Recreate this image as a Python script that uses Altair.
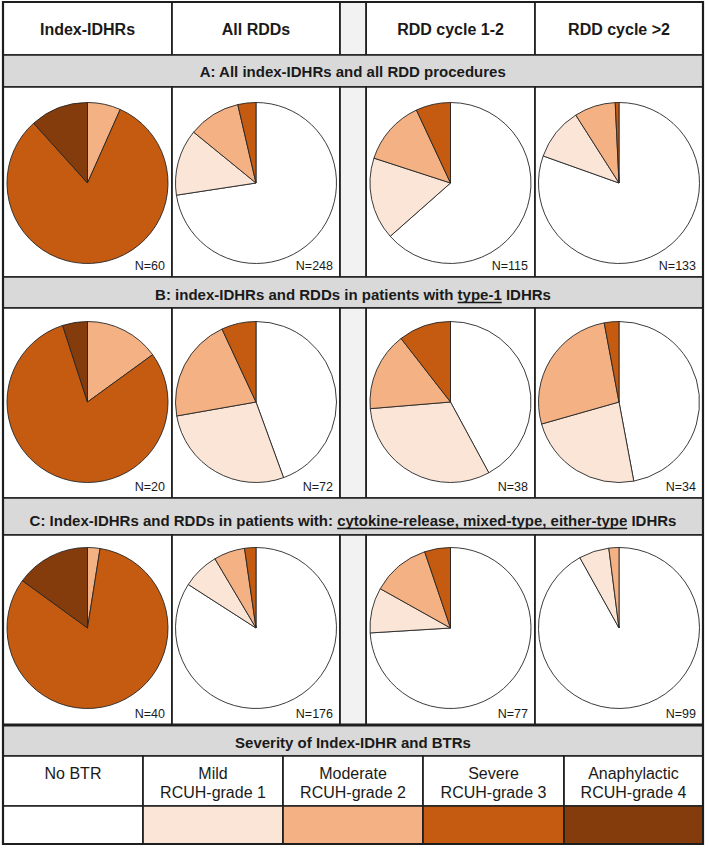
import math
import altair as alt
import pandas as pd

# ---------------- data ----------------
columns = ["Index-IDHRs", "All RDDs", "RDD cycle 1-2", "RDD cycle >2"]
severity = ["No BTR", "Mild", "Moderate", "Severe", "Anaphylactic"]
severity_grade = ["", "RCUH-grade 1", "RCUH-grade 2", "RCUH-grade 3", "RCUH-grade 4"]
severity_colors = ["#FFFFFF", "#FBE5D6", "#F4B183", "#C55A11", "#843C0C"]
legend_title = "Severity of Index-IDHR and BTRs"

sections = ["A", "B", "C"]
# (plain prefix, underlined part, plain suffix)
section_titles = [
    ("A: All index-IDHRs and all RDD procedures", "", ""),
    ("B: index-IDHRs and RDDs in patients with ", "type-1", " IDHRs"),
    ("C: Index-IDHRs and RDDs in patients with: ", "cytokine-release, mixed-type, either-type", " IDHRs"),
]

# counts per severity (No BTR, Mild, Moderate, Severe, Anaphylactic) for each column
counts_A = [[0, 0, 4, 49, 7], [180, 33, 26, 9, 0], [73, 19, 15, 8, 0], [107, 14, 11, 1, 0]]
counts_B = [[0, 0, 3, 16, 1], [32, 20, 15, 5, 0], [16, 12, 6, 4, 0], [16, 8, 9, 1, 0]]
counts_C = [[0, 0, 1, 33, 6], [148, 13, 11, 4, 0], [57, 7, 9, 4, 0], [91, 6, 2, 0, 0]]
counts = {"A": counts_A, "B": counts_B, "C": counts_C}

# ---------------- layout (pixels) ----------------
W, H = 709, 848
LEFT, RIGHT = 3, 703
MIDX = (LEFT + RIGHT) / 2
PIE_COLS = [(3, 172), (172, 340), (366, 535), (535, 703)]
GAP = (340, 366)
HEADER = (2, 55)
BANDS = {"A": (55, 87), "B": (277, 308), "C": (498, 535)}
BAND_BASE = {"A": 77, "B": 300, "C": 526}
ROWS = {"A": (87, 277), "B": (308, 498), "C": (535, 725)}
PIE_CY = {"A": 183, "B": 402, "C": 628}
PIE_R = 80.5
SEV_BAND = (725, 756)
LEG_LABEL = (756, 806)
LEG_SWATCH = (806, 844)
LEG_X = [3, 143, 283, 423, 564, 703]
LINE = "#1e1e1e"
TXT = "#1a1a1a"
FONT = "Liberation Sans"

xs = alt.Scale(domain=[0, W], range=[0, W], nice=False, zero=False)
ys = alt.Scale(domain=[0, H], range=[0, H], nice=False, zero=False)

# Arial-bold advance widths (per 1000 em) to place underlined pieces
BOLD_W = {' ': 278, ',': 278, '-': 333, '.': 278, ':': 333, '>': 584, '=': 584}
for c in "0123456789":
    BOLD_W[c] = 556
BOLD_W.update(dict(zip("ABCDEFGHIJKLMNOPQRSTUVWXYZ",
                       [722, 722, 722, 722, 667, 611, 778, 722, 278, 556, 722, 611, 833,
                        722, 778, 667, 778, 722, 667, 611, 722, 667, 944, 667, 667, 611])))
BOLD_W.update(dict(zip("abcdefghijklmnopqrstuvwxyz",
                       [556, 611, 556, 611, 556, 333, 611, 611, 278, 278, 556, 278, 889,
                        611, 611, 611, 611, 389, 556, 333, 611, 556, 778, 556, 556, 500])))


def text_w(s, size):
    return sum(BOLD_W.get(c, 556) for c in s) * size / 1000.0


# ---------------- tables ----------------
cells = []


def cell(x, x2, y, y2, fill):
    cells.append({"x": x, "x2": x2, "y": y, "y2": y2, "fill": fill})


for (a, b) in PIE_COLS:
    cell(a, b, HEADER[0], HEADER[1], "#FFFFFF")
cell(GAP[0], GAP[1], HEADER[0], HEADER[1], "#F2F2F2")
for s in sections:
    cell(LEFT, RIGHT, BANDS[s][0], BANDS[s][1], "#D9D9D9")
    for (a, b) in PIE_COLS:
        cell(a, b, ROWS[s][0], ROWS[s][1], "#FFFFFF")
    cell(GAP[0], GAP[1], ROWS[s][0], ROWS[s][1], "#F2F2F2")
cell(LEFT, RIGHT, SEV_BAND[0], SEV_BAND[1], "#D9D9D9")
for i in range(5):
    cell(LEG_X[i], LEG_X[i + 1], LEG_LABEL[0], LEG_LABEL[1], "#FFFFFF")
cells_df = pd.DataFrame(cells)

swatch_df = pd.DataFrame({
    "cat": severity,
    "x": LEG_X[:-1], "x2": LEG_X[1:],
    "y": [LEG_SWATCH[0]] * 5, "y2": [LEG_SWATCH[1]] * 5,
})

pie_rows = []
nlab_rows = []
for s in sections:
    for ci, (a, b) in enumerate(PIE_COLS):
        vals = counts[s][ci]
        for k, cat in enumerate(severity):
            pie_rows.append({"pie": f"{s}{ci}", "cat": cat, "order": k, "value": vals[k],
                             "cx": (a + b) / 2, "cy": PIE_CY[s]})
        nlab_rows.append({"x": b - 7, "y": ROWS[s][1] - 7, "text": f"N={sum(vals)}"})
pie_df = pd.DataFrame(pie_rows)
nlab_df = pd.DataFrame(nlab_rows)

header_df = pd.DataFrame({"text": columns, "x": [(a + b) / 2 for a, b in PIE_COLS], "y": [35] * 4})

title_rows, ul_rows = [], []
for s, (p1, p2, p3) in zip(sections, section_titles):
    w1, w2, w3 = text_w(p1, 15), text_w(p2, 15), text_w(p3, 15)
    start = MIDX - (w1 + w2 + w3) / 2
    y = BAND_BASE[s]
    for txt, x in ((p1, start), (p2, start + w1), (p3, start + w1 + w2)):
        if txt.strip():
            title_rows.append({"text": txt.strip(), "x": x + (text_w(txt, 15) - text_w(txt.lstrip(), 15)), "y": y})
    if p2:
        ul_rows.append({"x": start + w1, "x2": start + w1 + w2, "y": y + 2.5})
title_rows.append({"text": legend_title, "x": MIDX - text_w(legend_title, 15) / 2, "y": 748})
title_df = pd.DataFrame(title_rows)
ul_df = pd.DataFrame(ul_rows)

leg_df = pd.DataFrame({
    "l1": severity, "l2": severity_grade,
    "x": [(LEG_X[i] + LEG_X[i + 1]) / 2 for i in range(5)],
    "y1": [779] * 5, "y2": [798] * 5,
})

thick_df = pd.DataFrame({"x": [LEFT], "x2": [RIGHT], "y": [SEV_BAND[0]]})
frame_df = pd.DataFrame({"x": [LEFT], "x2": [RIGHT], "y": [HEADER[0]], "y2": [LEG_SWATCH[1]]})

# ---------------- layers ----------------
cells_layer = alt.Chart(cells_df).mark_rect(stroke=LINE, strokeWidth=1.7).encode(
    x=alt.X("x:Q", scale=xs, axis=None), x2="x2:Q",
    y=alt.Y("y:Q", scale=ys, axis=None), y2="y2:Q",
    fill=alt.Fill("fill:N", scale=None),
)

color_scale = alt.Scale(domain=severity, range=severity_colors)

swatch_layer = alt.Chart(swatch_df).mark_rect(stroke=LINE, strokeWidth=1.7).encode(
    x=alt.X("x:Q", scale=xs, axis=None), x2="x2:Q",
    y=alt.Y("y:Q", scale=ys, axis=None), y2="y2:Q",
    color=alt.Color("cat:N", scale=color_scale, legend=None),
)

pie_layer = alt.Chart(pie_df).transform_filter(
    "datum.value > 0"
).transform_joinaggregate(
    total="sum(value)", groupby=["pie"]
).transform_window(
    cum="sum(value)", groupby=["pie"], sort=[alt.SortField("order")], frame=[None, 0]
).transform_calculate(
    t0="(datum.cum - datum.value) / datum.total", t1="datum.cum / datum.total"
).mark_arc(radius=PIE_R, stroke="#262626", strokeWidth=0.9).encode(
    x=alt.X("cx:Q", scale=xs, axis=None),
    y=alt.Y("cy:Q", scale=ys, axis=None),
    theta=alt.Theta("t0:Q", scale=alt.Scale(domain=[0, 1], range=[0, 2 * math.pi]), stack=None),
    theta2=alt.Theta2("t1"),
    color=alt.Color("cat:N", scale=color_scale, legend=None),
)

header_layer = alt.Chart(header_df).mark_text(
    font=FONT, fontSize=16, fontWeight="bold", color=TXT, align="center", baseline="alphabetic"
).encode(x=alt.X("x:Q", scale=xs, axis=None), y=alt.Y("y:Q", scale=ys, axis=None), text="text:N")

title_layer = alt.Chart(title_df).mark_text(
    font=FONT, fontSize=15, fontWeight="bold", color=TXT, align="left", baseline="alphabetic"
).encode(x=alt.X("x:Q", scale=xs, axis=None), y=alt.Y("y:Q", scale=ys, axis=None), text="text:N")

ul_layer = alt.Chart(ul_df).mark_rule(color=TXT, strokeWidth=1.3).encode(
    x=alt.X("x:Q", scale=xs, axis=None), x2="x2:Q", y=alt.Y("y:Q", scale=ys, axis=None)
)

nlab_layer = alt.Chart(nlab_df).mark_text(
    font=FONT, fontSize=12.5, color=TXT, align="right", baseline="alphabetic"
).encode(x=alt.X("x:Q", scale=xs, axis=None), y=alt.Y("y:Q", scale=ys, axis=None), text="text:N")

leg1_layer = alt.Chart(leg_df).mark_text(
    font=FONT, fontSize=16, color=TXT, align="center", baseline="alphabetic"
).encode(x=alt.X("x:Q", scale=xs, axis=None), y=alt.Y("y1:Q", scale=ys, axis=None), text="l1:N")

leg2_layer = alt.Chart(leg_df).mark_text(
    font=FONT, fontSize=16, color=TXT, align="center", baseline="alphabetic"
).encode(x=alt.X("x:Q", scale=xs, axis=None), y=alt.Y("y2:Q", scale=ys, axis=None), text="l2:N")

thick_layer = alt.Chart(thick_df).mark_rule(color=LINE, strokeWidth=3).encode(
    x=alt.X("x:Q", scale=xs, axis=None), x2="x2:Q", y=alt.Y("y:Q", scale=ys, axis=None)
)

frame_layer = alt.Chart(frame_df).mark_rect(fill=None, stroke=LINE, strokeWidth=2.2).encode(
    x=alt.X("x:Q", scale=xs, axis=None), x2="x2:Q",
    y=alt.Y("y:Q", scale=ys, axis=None), y2="y2:Q",
)

chart = alt.layer(
    cells_layer, swatch_layer, pie_layer, header_layer, title_layer, ul_layer,
    nlab_layer, leg1_layer, leg2_layer, thick_layer, frame_layer
).resolve_scale(color="independent", fill="independent").properties(
    width=W, height=H, padding=0, autosize=alt.AutoSizeParams(type="none"),
    background="#FFFFFF",
).configure_view(stroke=None)

chart.save("out.html", embed_options={"renderer": "svg", "actions": False})
